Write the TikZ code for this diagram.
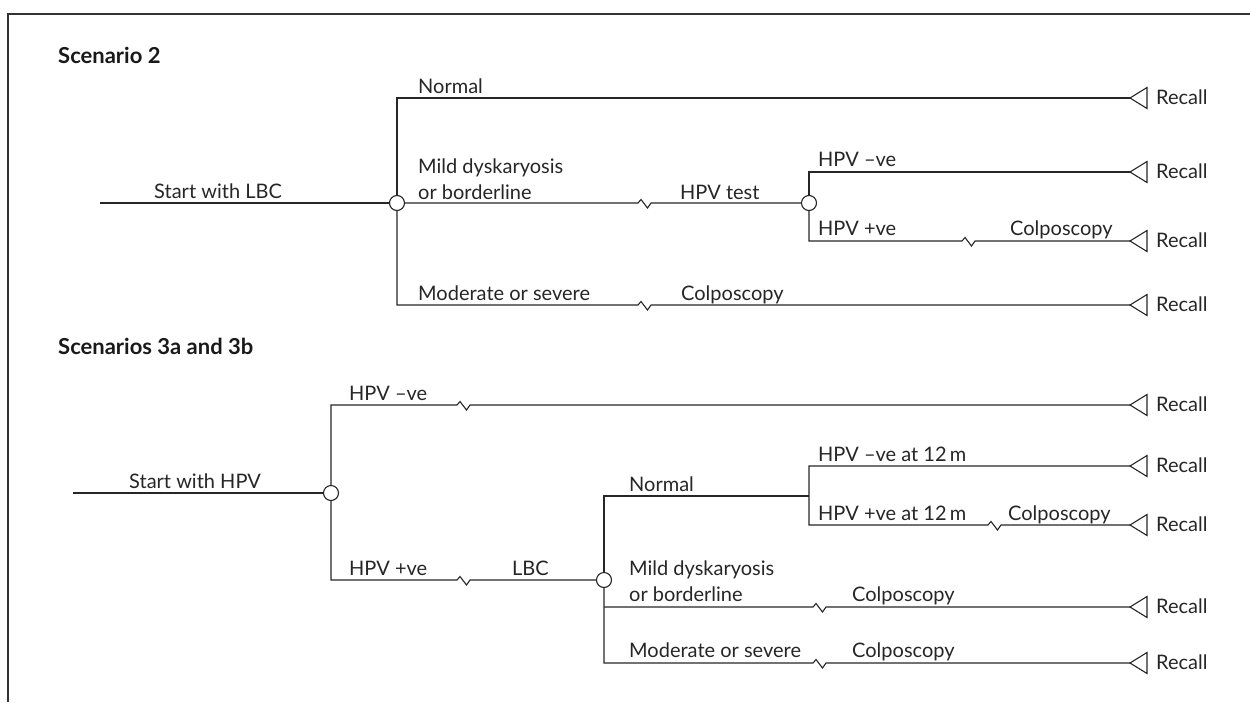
\documentclass[tikz,border=0pt]{standalone}
\usepackage{fontspec}
\setmainfont{Lato}
\begin{document}
\begin{tikzpicture}[x=1pt,y=-1pt,
  ln/.style={line width=1.1pt, draw=black!85, line join=miter},
  chance/.style={circle, draw=black!85, line width=1.1pt, fill=white, minimum size=15pt, inner sep=0pt},
  lab/.style={anchor=base west, inner sep=0pt, font=\fontsize{20}{24}\selectfont, text=black!85},
  startlab/.style={anchor=base, inner sep=0pt, font=\fontsize{20}{24}\selectfont, text=black!85},
  head/.style={anchor=base west, inner sep=0pt, font=\bfseries\fontsize{22}{26}\selectfont, text=black!90},
  rec/.style={anchor=base west, inner sep=0pt, font=\fontsize{20}{24}\selectfont, text=black!85},
  brk/.style={insert path={-- ++(3,-3.5) -- ++(6.5,8.5) -- ++(3.5,-5)}},
  tri/.style={insert path={-- ++(17,-10.5) -- ++(0,21) -- cycle}}
]
\useasboundingbox (0,0) rectangle (1250,702);
\draw[line width=1.3pt, black!80] (1250,14) -- (8,14) -- (8,702);

% ---------- Scenario 2 ----------
\node[head] (h1) at (58,63) {Scenario 2};
\node[chance] (a0) at (397,203) {};
\node[chance] (b0) at (809,203) {};
\coordinate (s1) at (100,203);
\coordinate (a1) at (397,98);
\coordinate (a3) at (397,305);
\coordinate (z1) at (638,203);
\coordinate (z2) at (638,305);
\coordinate (b1) at (809,172);
\coordinate (b2) at (809,241);
\coordinate (z3) at (962,241);
\coordinate (t1) at (1130,98);
\coordinate (t2) at (1130,172);
\coordinate (t3) at (1130,241);
\coordinate (t4) at (1130,305);

\draw[ln] (s1) -- (a0);
\draw[ln] (a0.north) -- (a1) -- (t1);
\draw[ln] (a0) -- (z1) [brk] -- (b0);
\draw[ln] (a0.south) -- (a3) -- (z2) [brk] -- (t4);
\draw[ln] (b0.north) -- (b1) -- (t2);
\draw[ln] (b0.south) -- (b2) -- (z3) [brk] -- (t3);
\foreach \t in {t1,t2,t3,t4} \draw[ln] (\t) [tri];

\node[startlab] (l1) at (218,198) {Start with LBC};
\node[lab] (l2) at (418,93) {Normal};
\node[lab] (l3) at (418,173) {Mild dyskaryosis};
\node[lab] (l4) at (418,199) {or borderline};
\node[lab] (l5) at (680,199) {HPV test};
\node[lab] (l6) at (818,166) {HPV –ve};
\node[lab] (l7) at (818,235) {HPV +ve};
\node[lab] (l8) at (1010,235) {Colposcopy};
\node[lab] (l9) at (418,300) {Moderate or severe};
\node[lab] (l10) at (681,300) {Colposcopy};
\node[rec] (r1) at (1156,104) {Recall};
\node[rec] (r2) at (1156,178) {Recall};
\node[rec] (r3) at (1156,247) {Recall};
\node[rec] (r4) at (1156,311) {Recall};

% ---------- Scenarios 3a and 3b ----------
\node[head] (h2) at (58,354) {Scenarios 3a and 3b};
\node[chance] (d0) at (331,493) {};
\node[chance] (e0) at (604,580) {};
\coordinate (s2) at (73,493);
\coordinate (d1) at (331,405);
\coordinate (d2) at (331,580);
\coordinate (z4) at (457,405);
\coordinate (z5) at (457,580);
\coordinate (e1) at (604,496);
\coordinate (e2) at (604,607);
\coordinate (e3) at (604,663);
\coordinate (f0) at (809,496);
\coordinate (f1) at (809,466);
\coordinate (f2) at (809,525);
\coordinate (z6) at (988,525);
\coordinate (z7) at (813,607);
\coordinate (z8) at (813,663);
\coordinate (t5) at (1130,405);
\coordinate (t6) at (1130,466);
\coordinate (t7) at (1130,525);
\coordinate (t8) at (1130,607);
\coordinate (t9) at (1130,663);

\draw[ln] (s2) -- (d0);
\draw[ln] (d0.north) -- (d1) -- (z4) [brk] -- (t5);
\draw[ln] (d0.south) -- (d2) -- (z5) [brk] -- (e0);
\draw[ln] (e0.north) -- (e1) -- (f0);
\draw[ln] (t6) -- (f1) -- (f2) -- (z6) [brk] -- (t7);
\draw[ln] (e0.south) -- (e3) -- (z8) [brk] -- (t9);
\draw[ln] (e2) -- (z7) [brk] -- (t8);
\foreach \t in {t5,t6,t7,t8,t9} \draw[ln] (\t) [tri];

\node[startlab] (m1) at (195,488) {Start with HPV};
\node[lab] (m2) at (349,400) {HPV –ve};
\node[lab] (m3) at (349,575) {HPV +ve};
\node[lab] (m4) at (512,575) {LBC};
\node[lab] (m5) at (629,491) {Normal};
\node[lab] (m6) at (818,461) {HPV –ve at 12\,m};
\node[lab] (m7) at (818,520) {HPV +ve at 12\,m};
\node[lab] (m8) at (1008,520) {Colposcopy};
\node[lab] (m9) at (629,575) {Mild dyskaryosis};
\node[lab] (m10) at (629,601) {or borderline};
\node[lab] (m11) at (852,601) {Colposcopy};
\node[lab] (m12) at (629,657) {Moderate or severe};
\node[lab] (m13) at (852,657) {Colposcopy};
\node[rec] (r5) at (1156,411) {Recall};
\node[rec] (r6) at (1156,472) {Recall};
\node[rec] (r7) at (1156,531) {Recall};
\node[rec] (r8) at (1156,613) {Recall};
\node[rec] (r9) at (1156,669) {Recall};
\end{tikzpicture}
\end{document}
